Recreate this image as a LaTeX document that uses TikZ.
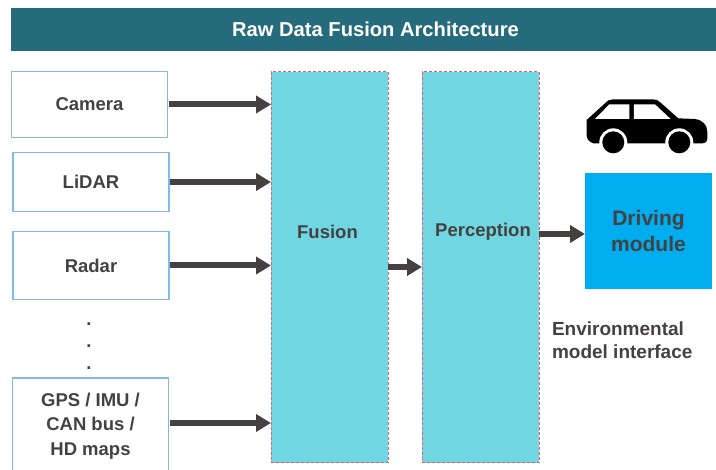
\documentclass[tikz,border=0pt]{standalone}
\usepackage{fontspec}
\setmainfont{Liberation Sans}
\usetikzlibrary{arrows.meta}
\definecolor{titlebg}{HTML}{266B7B}
\definecolor{fusionbg}{HTML}{70D6E2}
\definecolor{drivebg}{HTML}{00AEEF}
\definecolor{inktext}{HTML}{454141}
\definecolor{boxline}{HTML}{7FBAE8}
\definecolor{dashline}{HTML}{E0606C}
\tikzset{
  every node/.style={outer sep=0pt,inner sep=0pt,font=\fontsize{18.5}{24.5}\selectfont\bfseries,text=inktext,align=center},
  srcbox/.style={draw=boxline,line width=1.6pt,fill=white,minimum width=156pt},
  stagebox/.style={draw=dashline,densely dashed,line width=1pt,fill=fusionbg,minimum width=117pt,minimum height=391pt},
  flow/.style={draw=inktext,line width=6pt,-{Triangle[length=15pt,width=17pt]},shorten <=1pt},
}
\begin{document}
\begin{tikzpicture}[x=1pt,y=-1pt]
\useasboundingbox (0,0) rectangle (716,470);
\clip (0,0) rectangle (716,470);
\node[fill=titlebg,minimum width=705pt,minimum height=43pt] (title) at (363.5,29.5) {};
\node[text=white,font=\fontsize{20.15}{24}\selectfont\bfseries] (titlelabel) at (375.5,29.5) {Raw Data Fusion Architecture};
\node[srcbox,minimum height=66pt] (camera) at (89.5,104.5) {Camera};
\node[srcbox,minimum height=59pt] (lidar) at (91,182) {LiDAR};
\node[srcbox,minimum height=68pt] (radar) at (91,265.5) {Radar};
\node[srcbox,minimum height=96pt] (gps) at (90.5,426) {GPS / IMU /\\CAN bus /\\HD maps};
\node[anchor=base] (dota) at (89,326) {.};
\node[anchor=base] (dotb) at (89,348) {.};
\node[anchor=base] (dotc) at (89,370) {.};
\node[stagebox] (fusion) at (329.5,267.5) {};
\node[stagebox] (perception) at (480.5,267.5) {};
\node (fusionlabel) at (327.5,232) {Fusion};
\node (perceptionlabel) at (483,232) {Perception};
\node[fill=drivebg,minimum width=127pt,minimum height=116pt,font=\fontsize{21}{26}\selectfont\bfseries] (driving) at (648.5,231) {Driving\\module};
\node[anchor=north west,align=left,font=\fontsize{19}{23.5}\selectfont\bfseries] (envlabel) at (552,321.5) {Environmental\\model interface};
\coordinate (fp) at (0,267);
\coordinate (pd) at (0,234);
\draw[flow] (camera.east) -- (camera.east -| fusion.west);
\draw[flow] (lidar.east) -- (lidar.east -| fusion.west);
\draw[flow] (radar.east) -- (radar.east -| fusion.west);
\coordinate (gpsout) at (gps.east |- 0,423);
\draw[flow] (gpsout) -- (gpsout -| fusion.west);
\draw[flow,shorten <=0pt] (fp -| fusion.east) -- (fp -| perception.west);
\draw[flow,shorten <=0pt] (pd -| perception.east) -- (pd -| driving.west);
% car icon
\begin{scope}[shift={(360,60)},x=.3333pt,y=-.3333pt]
\fill[black] (680,180) -- (735,130) .. controls (743,121) and (750,118) .. (760,118) -- (880,118) .. controls (890,118) and (895,122) .. (902,128) -- (955,175) -- (1005,177) .. controls (1028,180) and (1042,195) .. (1042,215) -- (1042,238) .. controls (1042,246) and (1036,250) .. (1028,250) -- (700,250) .. controls (688,246) and (680,238) .. (680,225) -- cycle;
\fill[white] (705,177) -- (748,133) -- (808,133) -- (808,177) -- cycle;
\fill[white] (822,133) -- (885,133) -- (932,177) -- (822,177) -- cycle;
\fill[white] (760,247) circle[radius=42];
\fill[white] (958,247) circle[radius=42];
\fill[black] (760,247) circle[radius=33];
\fill[black] (958,247) circle[radius=33];
\end{scope}
\end{tikzpicture}
\end{document}
